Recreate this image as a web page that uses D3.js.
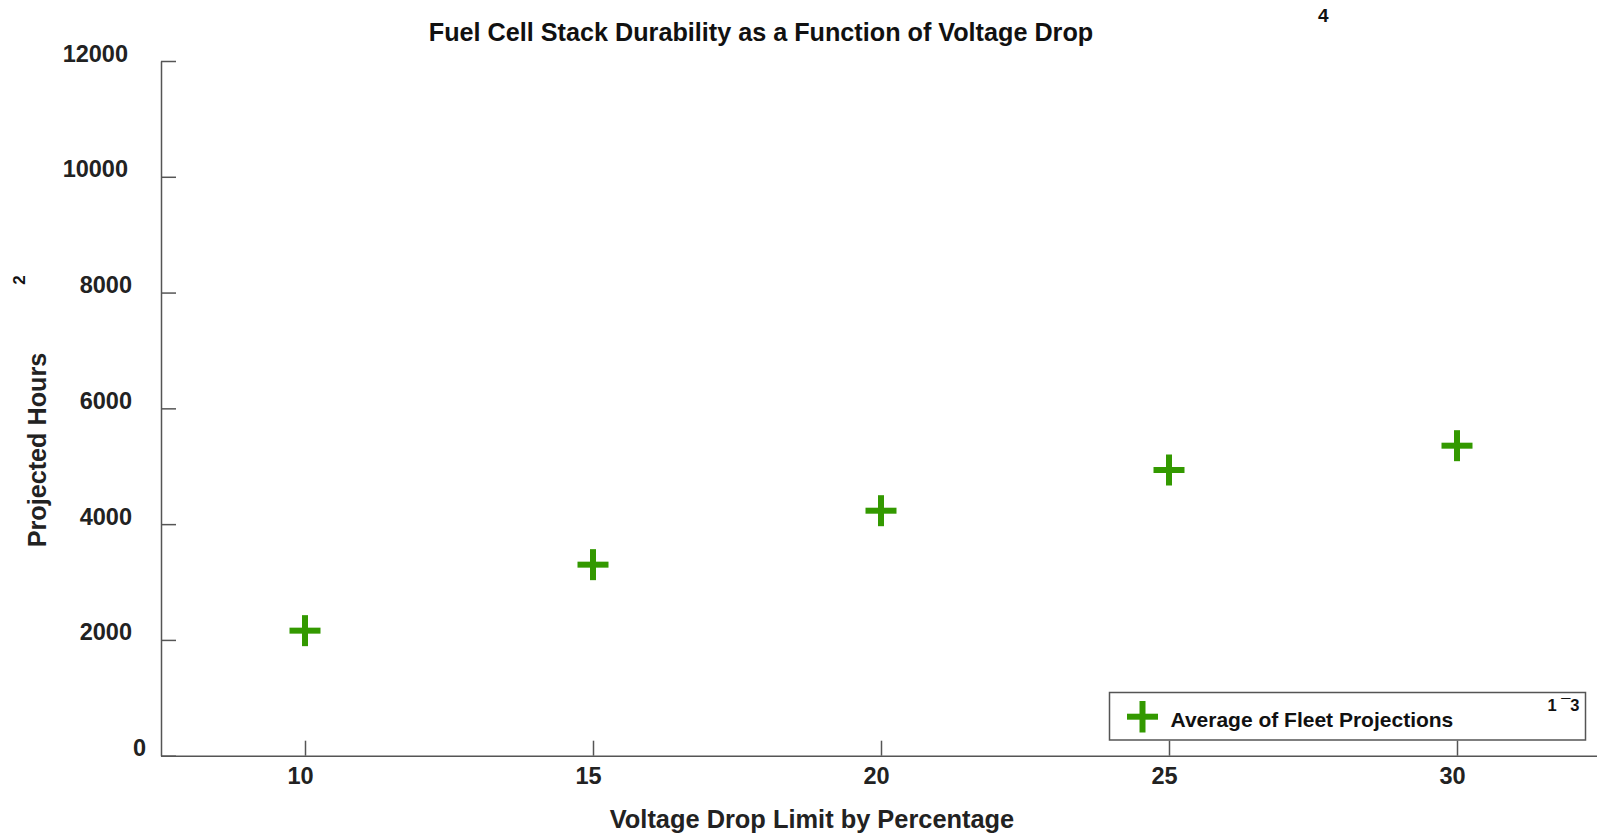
<!DOCTYPE html>
<html>
<head>
<meta charset="utf-8">
<script src="https://cdn.jsdelivr.net/npm/d3@7"></script>
<style>
html,body{margin:0;padding:0;background:#fff;overflow:hidden;}
text{font-family:"Liberation Sans",Arial,Helvetica,sans-serif;font-weight:bold;}
</style>
</head>
<body>
<svg id="chart" width="1597" height="834"></svg>
<script>
// ---- data ----
const voltageDrop = [10, 15, 20, 25, 30];
const projectedHours = [2160, 3300, 4232, 4935, 5355];
const xTicks = [10, 15, 20, 25, 30];
const yTicks = [0, 2000, 4000, 6000, 8000, 10000, 12000];
const seriesName = "Average of Fleet Projections";
const chartTitle = "Fuel Cell Stack Durability as a Function of Voltage Drop";
const xTitle = "Voltage Drop Limit by Percentage";
const yTitle = "Projected Hours";

const svg = d3.select("#chart");
const green = "#339900";
const axisColor = "#555";

const x = d3.scaleLinear().domain([7.5, 32.5]).range([161, 1601]);
const y = d3.scaleLinear().domain([0, 12000]).range([755.7, 61]);

// y axis
const yAxis = svg.append("g").attr("transform", "translate(161,0)")
  .call(d3.axisLeft(y).tickValues(yTicks).tickSize(-15).tickSizeOuter(0).tickFormat(d3.format("d")));
yAxis.select(".domain").attr("stroke", axisColor).attr("stroke-width", 1.5);
yAxis.selectAll(".tick line").attr("stroke", axisColor).attr("stroke-width", 1.5);
yAxis.selectAll(".tick text")
  .attr("fill", "#222").attr("font-size", 23.5).attr("dy", "0")
  .attr("x", d => { const n = String(d).length; return n >= 5 ? -33 : (n === 1 ? -15 : -29); })
  .style("font-family", "'Liberation Sans',Arial,sans-serif").style("font-weight", "bold");

// x axis
const xAxis = svg.append("g").attr("transform", "translate(0,755.7)")
  .call(d3.axisBottom(x).tickValues(xTicks).tickSize(-15).tickSizeOuter(0).tickFormat(d3.format("d")));
xAxis.select(".domain").attr("stroke", axisColor).attr("stroke-width", 1.5);
xAxis.selectAll(".tick line").attr("stroke", axisColor).attr("stroke-width", 1.5);
xAxis.selectAll(".tick text")
  .attr("fill", "#222").attr("font-size", 23.5).attr("dy", "0").attr("y", 28).attr("x", -5)
  .style("font-family", "'Liberation Sans',Arial,sans-serif").style("font-weight", "bold");

// markers
const half = 15.5;
const pts = svg.append("g").selectAll("g").data(voltageDrop.map((v, i) => ({x: v, y: projectedHours[i]})))
  .join("g");
pts.append("line").attr("x1", d => x(d.x) - half).attr("x2", d => x(d.x) + half)
  .attr("y1", d => y(d.y)).attr("y2", d => y(d.y)).attr("stroke", green).attr("stroke-width", 6);
pts.append("line").attr("x1", d => x(d.x)).attr("x2", d => x(d.x))
  .attr("y1", d => y(d.y) - half).attr("y2", d => y(d.y) + half).attr("stroke", green).attr("stroke-width", 6);

// titles
svg.append("text").attr("x", 761).attr("y", 41).attr("text-anchor", "middle")
  .attr("font-size", 25.2).attr("fill", "#111").text(chartTitle);
svg.append("text").attr("x", 812).attr("y", 828).attr("text-anchor", "middle")
  .attr("font-size", 25.4).attr("fill", "#222").text(xTitle);
svg.append("text").attr("transform", "translate(46,450) rotate(-90)").attr("text-anchor", "middle")
  .attr("font-size", 25.2).attr("fill", "#222").text(yTitle);
svg.append("text").attr("transform", "translate(25,280) rotate(-90)").attr("text-anchor", "middle")
  .attr("font-size", 17).attr("fill", "#111").text("2");
svg.append("text").attr("x", 1318).attr("y", 21.5)
  .attr("font-size", 19).attr("fill", "#111").text("4");

// legend
const lg = svg.append("g");
lg.append("rect").attr("x", 1109.5).attr("y", 692.5).attr("width", 476).attr("height", 47.5)
  .attr("fill", "#fff").attr("stroke", axisColor).attr("stroke-width", 1.5);
lg.append("line").attr("x1", 1127).attr("x2", 1158).attr("y1", 716.7).attr("y2", 716.7)
  .attr("stroke", green).attr("stroke-width", 6);
lg.append("line").attr("x1", 1142.5).attr("x2", 1142.5).attr("y1", 701).attr("y2", 732.5)
  .attr("stroke", green).attr("stroke-width", 6);
lg.append("text").attr("x", 1170.5).attr("y", 727.3).attr("font-size", 21).attr("fill", "#111").text(seriesName);
lg.append("text").attr("x", 1547.5).attr("y", 710.7).attr("font-size", 16.5).attr("fill", "#111").text("1 \u00AF3");
</script>
</body>
</html>
